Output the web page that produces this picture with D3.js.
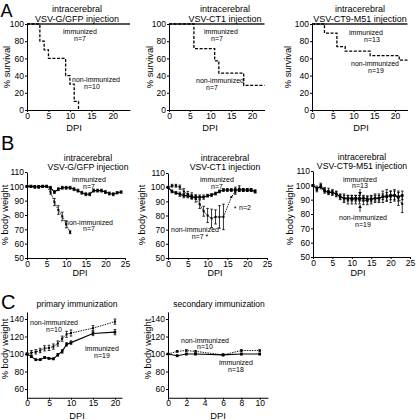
<!DOCTYPE html>
<html><head><meta charset="utf-8">
<script src="https://cdn.jsdelivr.net/npm/d3@7"></script>
<style>body{margin:0;background:#fff}svg text{font-family:Arial,"Liberation Sans",Helvetica,sans-serif;fill:#000}</style>
</head><body><svg id="c" width="416" height="420"></svg>
<script>
// ---------- DATA ----------
// A: survival (step curves)
const a1NonDays = [0,3,4,5,9,10,11,12];
const a1NonVals = [100,80,70,60,40,30,10,0];
const a1ImmDays = [0,24];
const a1ImmVals = [100,100];
const a2NonDays = [0,6,11,12,18,23];
const a2NonVals = [100,71.4,57.1,42.9,28.6,28.6];
const a2ImmDays = [0,23];
const a2ImmVals = [100,100];
const a3NonDays = [0,3,6,8,14,21,23];
const a3NonVals = [100,89.5,73.7,68.4,63.2,57.9,57.9];
const a3ImmDays = [0,23];
const a3ImmVals = [100,100];
// B: body weight after intracerebral injection
const b1ImmDays = [0,1,2,3,4,5,6,7,8,9,10,11,12,13,14,15,16,17,18,19,20,21,22,23,24];
const b1ImmVals = [100,100,99.5,99.5,100,100,99,96,98,99,99,99,98,97,95.5,94.5,94.5,97,97,97,96,95,94.5,95.5,96];
const b1ImmErr  = [0.5,0.8,0.8,0.8,0.8,0.8,1,1,1,1,1,1,1,1,1,1,1,1,1,1,1,1,1,0.8,0.8];
const b1NonDays = [0,1,2,3,4,5,6,7,8,9,10,11];
const b1NonVals = [100,100,100,100,100,100,96,89,83.5,79,73.5,68];
const b1NonErr  = [0.5,0.5,0.5,0.5,0.5,0.5,1.5,2.5,3,3,2.5,1];
const b2ImmDays = [0,1,2,3,4,5,6,7,8,9,10,11,12,13,14,15,16,17,18,19,20,21,22];
const b2ImmVals = [100,97,96,95,94,94,93,93,93,93,94,94.5,95.5,97,98,98,98,98,98,98,98,98,97];
const b2ImmErr  = [0.5,1,1,1.5,1.5,1.5,1.5,1.5,1.5,1.5,1,1,1,1,1,1,1,2,1,1,1,1,1];
const b2NonDays = [0,1,2,3,4,5,6,7,8,9,10,11,12,13,14,16,17,18,19,20,21,22];
const b2NonVals = [100,101,101,100,97,95,94,92,88,83,80,78,79,79,79,93,97,99,98,98,98,97];
const b2NonErr  = [0.5,1,1,1.5,2,2,2,2.5,3,3.5,5,6.5,5,8,9,0,2,2,1,1,1,1];
const b3ImmDays = [0,1,2,3,4,5,6,7,8,9,10,11,12,13,14,15,16,17,18,19,20,21,22,23];
const b3ImmVals = [100,98,99,96,95,95,94,92,91,91,91,91,91,91,90.5,90.5,91,91,92,92,93,93,92,93];
const b3ImmErr  = [0.5,1.5,1.5,1.5,1.5,1.5,1.5,1.5,2,2,2,2,2,2,2,2,2,2,2,3,3,3,3,3];
const b3NonDays = [0,1,2,3,4,5,6,7,8,9,10,11,12,13,14,15,16,17,18,19,20,21,22,23];
const b3NonVals = [100,97,100,97,96,95,94,92,91,90,90,90,90,89.5,89.5,90,91,91,92,93,92,93,91,87];
const b3NonErr  = [0.5,1.5,1.5,1.5,2,2,2,2,3,3,3,3,3,3,3,3,3,3,4,4,4,4,5,6];
// C: body weight after immunization
const c1Days    = [0,1,2,3,4,5,6,7,8,9,10,15,20];
const c1ImmVals = [100,97,93.5,93.5,96,95,94.5,99,103,111,113,123.5,125];
const c1ImmErr  = [1,1,1,1,1,1,1,1.5,2,2,2,2.5,3];
const c1NonVals = [100,101.5,102.5,104,106.5,107,108.5,112,117.5,122.5,124,129.5,137];
const c1NonErr  = [1,2.5,2.5,2.5,3,3,3,3,3,3.5,3.5,3,3];
const c2Days    = [0,1,2,3,6,8,10];
const c2ImmVals = [100,98,100,100,99,100,100];
const c2ImmErr  = [0.5,1,1,1,1,1,1];
const c2NonVals = [100,103,104,103,99,104,104];
const c2NonErr  = [0.5,1,1,1,1,1,1];
// tick labels
const aXTicks = [0,5,10,15,20];
const aYTicks = [0,20,40,60,80,100];
const bXTicks = [0,5,10,15,20,25];
const bYTicks = [50,60,70,80,90,100,110];
const c1XTicks = [0,5,10,15,20];
const c2XTicks = [0,2,4,6,8,10];
const cYTicks = [60,80,100,120,140];

// ---------- DRAW ----------
const svg = d3.select("#c");
const FONT = 'Arial,"Liberation Sans",Helvetica,sans-serif';

function panel(xd, xr, yd, yr, xt, yt){
  const x = d3.scaleLinear().domain(xd).range(xr);
  const y = d3.scaleLinear().domain(yd).range(yr);
  const g = svg.append("g");
  const xa = g.append("g").attr("transform",`translate(0,${yr[0]})`)
    .call(d3.axisBottom(x).tickValues(xt).tickSize(2).tickSizeOuter(0).tickPadding(0.5));
  const ya = g.append("g").attr("transform",`translate(${xr[0]},0)`)
    .call(d3.axisLeft(y).tickValues(yt).tickSize(2).tickSizeOuter(0).tickPadding(1));
  [xa,ya].forEach(a=>{
    a.attr("font-size",8.5).attr("font-family",FONT);
    a.select(".domain").attr("stroke","#000").attr("stroke-width",1);
    a.selectAll(".tick line").attr("stroke","#000");
    a.selectAll(".tick text").attr("fill","#000");
  });
  return {g,x,y};
}
function text(t, x, y, size, opts={}){
  const el = svg.append("text").attr("x",x).attr("y",y).attr("font-size",size)
    .attr("text-anchor",opts.anchor||"middle").attr("font-family",FONT).text(t);
  if(opts.rotate) el.attr("transform",`rotate(-90,${x},${y})`);
  return el;
}
function zip(d,v){ return d.map((k,i)=>[k,v[i]]); }
function stepLine(p, days, vals, style){
  p.g.append("path").datum(zip(days,vals))
    .attr("d", d3.line().x(d=>p.x(d[0])).y(d=>p.y(d[1])).curve(d3.curveStepAfter))
    .attr("fill","none").attr("stroke",style.color).attr("stroke-width",style.width)
    .attr("stroke-dasharray",style.dash||null);
}
function series(p, days, vals, errs, style){
  const pts = days.map((d,i)=>({d, v:vals[i], e:errs[i]}));
  p.g.append("path").datum(pts)
    .attr("d", d3.line().x(d=>p.x(d.d)).y(d=>p.y(d.v)))
    .attr("fill","none").attr("stroke","#000").attr("stroke-width",style.width)
    .attr("stroke-dasharray",style.dash||null);
  const eb = p.g.append("g");
  pts.filter(d=>d.e>0).forEach(d=>{
    const x = p.x(d.d), y1 = p.y(d.v-d.e), y2 = p.y(d.v+d.e);
    eb.append("line").attr("x1",x).attr("x2",x).attr("y1",y1).attr("y2",y2).attr("stroke","#000").attr("stroke-width",0.8);
    [y1,y2].forEach(yy=>eb.append("line").attr("x1",x-1.3).attr("x2",x+1.3).attr("y1",yy).attr("y2",yy).attr("stroke","#000").attr("stroke-width",0.8));
  });
  p.g.append("g").selectAll("rect").data(pts).join("rect")
    .attr("x",d=>p.x(d.d)-style.m/2).attr("y",d=>p.y(d.v)-style.m/2)
    .attr("width",style.m).attr("height",style.m).attr("fill","#000");
}
function arrow(x, y1, y2){
  svg.append("line").attr("x1",x).attr("x2",x).attr("y1",y1).attr("y2",y2).attr("stroke","#000").attr("stroke-width",0.8);
  const dir = y2>y1 ? 1 : -1;
  svg.append("path").attr("d",`M${x-1.8},${y2-dir*3}L${x},${y2}L${x+1.8},${y2-dir*3}Z`).attr("fill","#000");
}

const immStep = {color:"#555", width:2};
const nonStep = {color:"#000", width:1.3, dash:"3,1.6"};
const immS = {width:1.1, m:2.6};
const nonS = {width:0.9, dash:"1.5,1", m:2};

// Panel letters
text("A", 0.5, 16.5, 18, {anchor:"start"});
text("B", 1, 150, 20, {anchor:"start"});
text("C", 1, 309, 20, {anchor:"start"});

// ---- A1 ----
let p = panel([0,24],[27,130],[0,100],[110,24],aXTicks,aYTicks);
stepLine(p, a1ImmDays, a1ImmVals, immStep);
stepLine(p, a1NonDays, a1NonVals, nonStep);
text("intracerebral", 77, 11.5, 9);
text("VSV-G/GFP injection", 77, 22, 9);
text("% survival", 10, 67, 9.3, {rotate:true});
text("DPI", 74, 131, 9.3);
text("immunized", 80, 33.5, 7);
text("n=7", 80, 40.5, 7);
text("non-immunized", 96, 81.5, 7);
text("n=10", 92, 88.5, 7);

// ---- A2 ----
p = panel([0,23],[169,264.5],[0,100],[110,24],aXTicks,aYTicks);
stepLine(p, a2ImmDays, a2ImmVals, immStep);
stepLine(p, a2NonDays, a2NonVals, nonStep);
text("intracerebral", 225, 11.5, 9);
text("VSV-CT1 injection", 225, 22, 9);
text("% survival", 153, 67, 9.3, {rotate:true});
text("DPI", 210, 131, 9.3);
text("immunized", 221, 33.5, 7);
text("n=7", 217, 40.5, 7);
text("non-immunized", 220, 82.5, 7);
text("n=7", 212, 90, 7);

// ---- A3 ----
p = panel([0,23],[312,407.5],[0,100],[110,24],aXTicks,aYTicks);
stepLine(p, a3ImmDays, a3ImmVals, immStep);
stepLine(p, a3NonDays, a3NonVals, nonStep);
text("intracerebral", 360, 11.5, 9);
text("VSV-CT9-M51 injection", 360, 22, 9);
text("% survival", 291, 67, 9.3, {rotate:true});
text("DPI", 361, 131, 9.3);
text("immunized", 366, 34.5, 7);
text("n=13", 372, 41.5, 7);
text("non-immunized", 375, 65.5, 7);
text("n=19", 376, 72.5, 7);

// ---- B1 ----
p = panel([0,25],[27,125],[50,110],[258,172],bXTicks,bYTicks);
series(p, b1NonDays, b1NonVals, b1NonErr, nonS);
series(p, b1ImmDays, b1ImmVals, b1ImmErr, immS);
text("intracerebral", 88, 160.5, 8.7);
text("VSV-G/GFP injection", 88, 169.5, 8.7);
text("% body weight", 8, 215, 9.3, {rotate:true});
text("DPI", 80, 276, 9);
text("immunized", 89, 181.5, 7);
text("n=7", 89, 188.5, 7);
text("non-immunized", 89, 224.5, 7);
text("n=7", 89, 231, 7);

// ---- B2 ----
p = panel([0,25],[168,267],[50,110],[258,173],bXTicks,bYTicks);
series(p, b2NonDays, b2NonVals, b2NonErr, nonS);
series(p, b2ImmDays, b2ImmVals, b2ImmErr, immS);
text("intracerebral", 225, 160.5, 8.7);
text("VSV-CT1 injection", 225, 169.5, 8.7);
text("% body weight", 145, 215, 9.3, {rotate:true});
text("DPI", 215, 276, 9);
text("immunized", 217, 181.5, 7);
text("n=7", 217, 188.5, 7);
text("non-immunized", 195, 231.5, 7);
text("n=7 *", 200, 238.5, 7);
text("*", 235, 210.5, 7);
text("n=2", 245, 210, 7);

// ---- B3 ----
p = panel([0,25],[313,410],[50,110],[257,171],bXTicks,bYTicks);
series(p, b3NonDays, b3NonVals, b3NonErr, nonS);
series(p, b3ImmDays, b3ImmVals, b3ImmErr, immS);
text("intracerebral", 362, 159.5, 8.7);
text("VSV-CT9-M51 injection", 362, 168.5, 8.7);
text("% body weight", 293, 215, 9.3, {rotate:true});
text("DPI", 358, 276, 9);
text("immunized", 360, 181.5, 7);
text("n=13", 360, 187.5, 7);
arrow(360, 189, 195);
text("non-immunized", 363, 219.5, 7);
text("n=19", 363, 226.5, 7);
arrow(360, 212, 205);

// ---- C1 ----
p = panel([0,21.6],[27,122],[50,148],[397.75,312],c1XTicks,cYTicks);
series(p, c1Days, c1NonVals, c1NonErr, nonS);
series(p, c1Days, c1ImmVals, c1ImmErr, immS);
text("primary immunization", 77, 307, 8.5);
text("% body weight", 8, 349, 9.3, {rotate:true});
text("DPI", 77, 419, 9.3);
text("non-immunized", 54, 324.5, 7);
text("n=10", 54, 331.5, 7);
text("immunized", 102, 350.5, 7);
text("n=19", 102, 357.5, 7);

// ---- C2 ----
p = panel([0,10.9],[168,268],[50,148],[397.75,312],c2XTicks,cYTicks);
series(p, c2Days, c2NonVals, c2NonErr, nonS);
series(p, c2Days, c2ImmVals, c2ImmErr, immS);
text("secondary immunization", 219, 307, 8.5);
text("% body weight", 151, 349, 9.3, {rotate:true});
text("DPI", 218, 419, 9.3);
text("non-immunized", 205, 342.5, 7);
text("n=10", 205, 349, 7);
text("immunized", 236, 364.5, 7);
text("n=18", 236, 371.5, 7);
</script></body></html>
